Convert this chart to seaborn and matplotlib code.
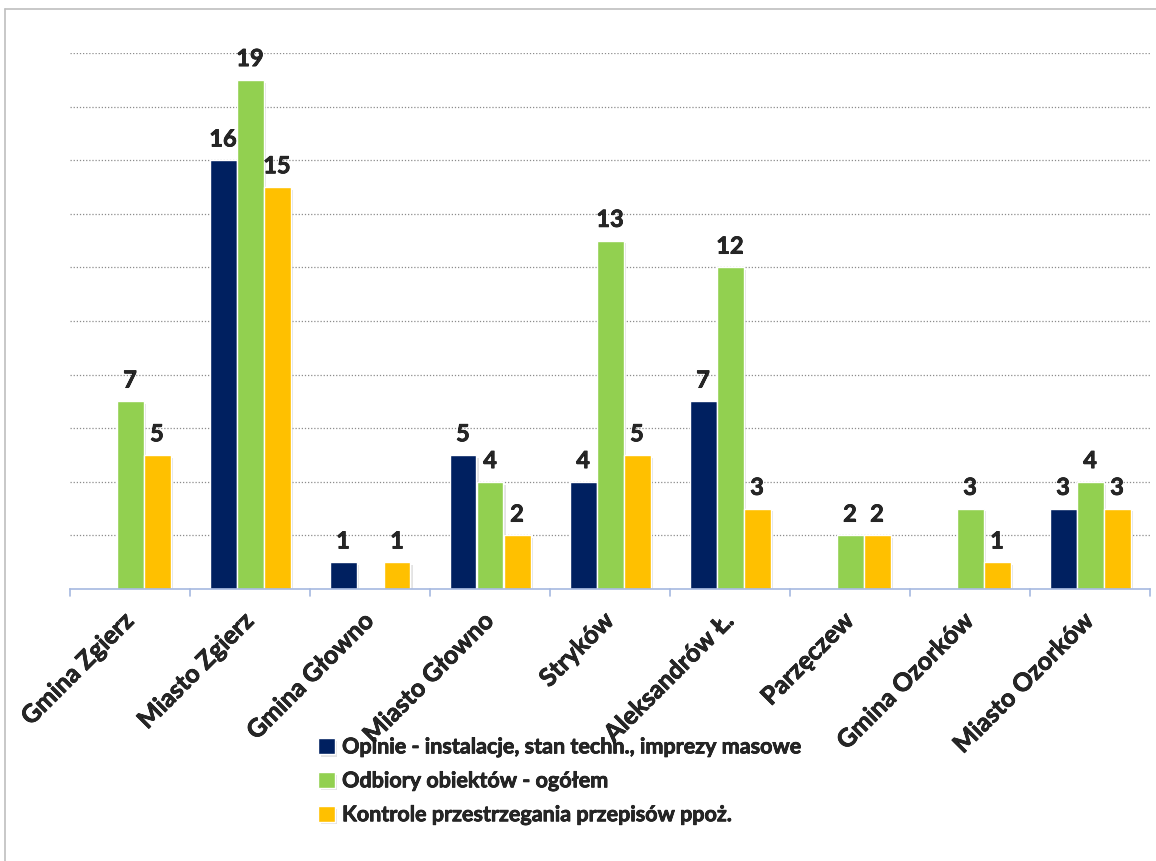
import numpy as np
import pandas as pd
import matplotlib
matplotlib.use("Agg")
import matplotlib.pyplot as plt
import matplotlib.patheffects as pe
import seaborn as sns
from matplotlib.lines import Line2D

# data
categories = ["Gmina Zgierz", "Miasto Zgierz", "Gmina Głowno", "Miasto Głowno",
              "Stryków", "Aleksandrów Ł.", "Parzęczew", "Gmina Ozorków", "Miasto Ozorków"]
series = ["Opinie - instalacje, stan techn., imprezy masowe",
          "Odbiory obiektów - ogółem",
          "Kontrole przestrzegania przepisów ppoż."]
opinie = [0, 16, 1, 5, 4, 7, 0, 0, 3]
odbiory = [7, 19, 0, 4, 13, 12, 2, 3, 4]
kontrole = [5, 15, 1, 2, 5, 3, 2, 1, 3]
colors = ["#002060", "#92d050", "#ffc000"]

df = pd.DataFrame({
    "Gmina": categories * 3,
    "Seria": [series[0]] * 9 + [series[1]] * 9 + [series[2]] * 9,
    "Liczba": opinie + odbiory + kontrole,
})

sns.set_style("white")
plt.rcParams["font.family"] = ["Lato", "DejaVu Sans"]
plt.rcParams["font.weight"] = "bold"

# slightly heavier text, closer to the original bold font
heavy = [pe.withStroke(linewidth=0.5, foreground="black")]

fig = plt.figure(figsize=(11.56, 8.62), dpi=100)
ax = fig.add_axes([70 / 1156, 1 - 590 / 862, 1080 / 1156, 536 / 862])

sns.barplot(data=df, x="Gmina", y="Liczba", hue="Seria", palette=colors,
            width=0.675, gap=0, saturation=1, ax=ax, legend=True)

# soft shadow like the original
for b in ax.patches:
    b.set_path_effects([pe.SimplePatchShadow(offset=(2, -2), shadow_rgbFace="#909090", alpha=0.25),
                        pe.Normal()])

ax.set_ylim(0, 20)
ax.set_xlim(-0.5, 8.5)
ax.set_yticks(np.arange(2, 21, 2))
ax.yaxis.grid(True, linestyle=(0, (1, 1.5)), color="#8c8c8c", linewidth=0.9)
ax.set_axisbelow(True)
ax.tick_params(axis="y", left=False, labelleft=False)
for s in ["top", "right", "left"]:
    ax.spines[s].set_visible(False)
ax.spines["bottom"].set_color("#a6b9e0")
ax.spines["bottom"].set_linewidth(1.2)
ax.set_xlabel("")
ax.set_ylabel("")

ax.set_xticks(range(9))
ax.set_xticklabels(categories, rotation=45, ha="right", va="center",
                   rotation_mode="anchor", fontsize=18, fontweight="bold")
ax.tick_params(axis="x", which="major", length=0, pad=20)
for t in ax.get_xticklabels():
    t.set_path_effects(heavy)

# category separator ticks
for xb in np.arange(-0.5, 9, 1):
    ax.add_line(Line2D([xb, xb], [0, -0.013], color="#a6b9e0", lw=1.2, clip_on=False,
                       transform=ax.get_xaxis_transform()))

for cont in ax.containers:
    labels = [str(int(b.get_height())) if b.get_height() > 0 else "" for b in cont]
    txts = ax.bar_label(cont, labels=labels, padding=7, fontsize=17, fontweight="bold")
    for t in txts:
        t.set_path_effects(heavy)

handles, labs = ax.get_legend_handles_labels()
ax.get_legend().remove()
leg = fig.legend(handles, labs, loc="upper left", bbox_to_anchor=(299 / 1156, 1 - 718 / 862),
                 frameon=False, handlelength=0.75, handleheight=0.75,
                 handletextpad=0.35, labelspacing=0.6, prop={"weight": "bold", "size": 15.5})
for t in leg.get_texts():
    t.set_path_effects(heavy)

# outer border
fig.add_artist(Line2D([5 / 1156, 5 / 1156], [0, 1 - 10 / 862], color="#bfbfbf", lw=1.2))
fig.add_artist(Line2D([5 / 1156, 1], [1 - 10 / 862, 1 - 10 / 862], color="#bfbfbf", lw=1.2))

fig.savefig("out.png", dpi=100)
